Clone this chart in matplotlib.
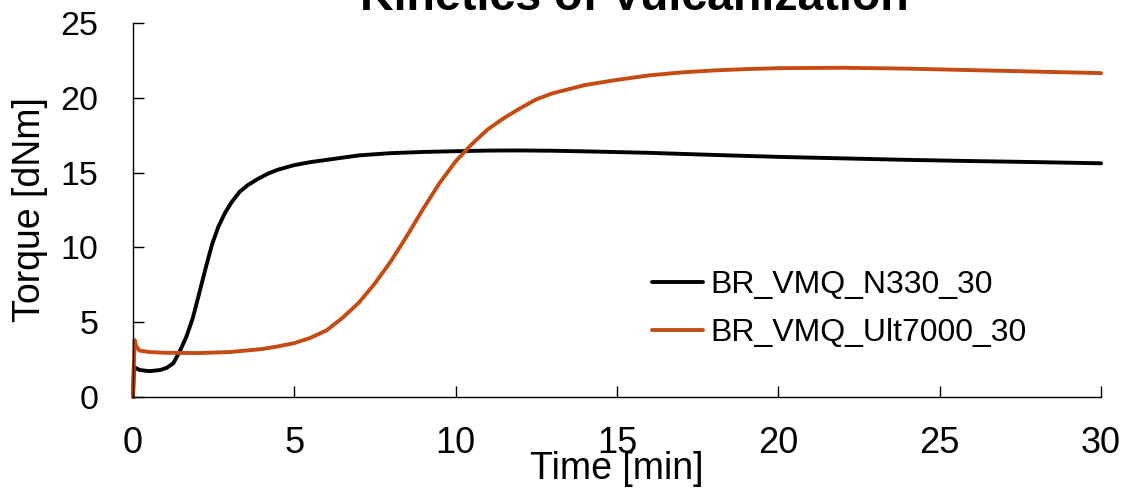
import matplotlib
matplotlib.use('Agg')
import matplotlib.pyplot as plt

plt.rcParams['font.family'] = ['Liberation Sans', 'DejaVu Sans']

# time [min] / torque [dNm]
t_n330 = [0, 0.03, 0.2, 0.5, 0.85, 1.05, 1.25, 1.45, 1.65, 1.85, 2.05, 2.25, 2.45,
          2.65, 2.85, 3.05, 3.3, 3.55, 3.85, 4.2, 4.5, 5.0, 5.5, 6.0, 7.0, 8.0, 9.0,
          10, 11, 12, 13, 14, 16, 18, 20, 22, 24, 26, 28, 30]
torque_n330 = [0, 2.0, 1.8, 1.72, 1.8, 1.95, 2.25, 3.05, 4.0, 5.25, 6.9, 8.6, 10.2,
               11.4, 12.3, 13.0, 13.7, 14.15, 14.55, 14.95, 15.2, 15.5, 15.7, 15.85,
               16.15, 16.3, 16.38, 16.43, 16.47, 16.48, 16.46, 16.42, 16.32, 16.18,
               16.05, 15.95, 15.85, 15.77, 15.7, 15.62]

t_ult = [0, 0.05, 0.1, 0.2, 0.5, 1.0, 2.0, 3.0, 4.0, 4.5, 5.0, 5.5, 6.0, 6.5, 7.0,
         7.5, 8.0, 8.5, 9.0, 9.5, 10.0, 10.5, 11.0, 11.5, 12.0, 12.5, 13.0, 14.0,
         15.0, 16.0, 17.0, 18.0, 19.0, 20.0, 22.0, 24.0, 26.0, 28.0, 30.0]
torque_ult = [0, 3.8, 3.4, 3.1, 3.0, 2.95, 2.93, 3.0, 3.2, 3.38, 3.6, 3.95, 4.45,
              5.3, 6.3, 7.6, 9.1, 10.8, 12.6, 14.3, 15.75, 16.9, 17.9, 18.65, 19.3,
              19.9, 20.3, 20.85, 21.2, 21.5, 21.7, 21.83, 21.92, 21.98, 22.01, 21.95,
              21.85, 21.75, 21.65]

fig = plt.figure(figsize=(11.27, 4.9), dpi=100)
ax = fig.add_axes([0.118, 0.19, 0.859, 0.763])

ax.plot(t_n330, torque_n330, color='black', lw=2.8, label='BR_VMQ_N330_30',
        clip_on=False, solid_joinstyle='round', solid_capstyle='round')
ax.plot(t_ult, torque_ult, color='#C54B14', lw=2.8, label='BR_VMQ_Ult7000_30',
        clip_on=False, solid_joinstyle='round', solid_capstyle='round')

ax.set_xlim(0, 30)
ax.set_ylim(0, 25)
ax.set_xticks([0, 5, 10, 15, 20, 25, 30])
ax.set_yticks([0, 5, 10, 15, 20, 25])
for s in ['top', 'right']:
    ax.spines[s].set_visible(False)
for s in ['left', 'bottom']:
    ax.spines[s].set_linewidth(1.0)
ax.tick_params(axis='both', direction='in', length=8, width=1.0)
ax.tick_params(axis='y', pad=25, labelsize=24.5)
ax.tick_params(axis='x', pad=21, labelsize=26)

ax.set_xlabel('Time [min]', fontsize=27)
ax.xaxis.set_label_coords(0.5, -0.193)
ax.xaxis.label.set_va('center')
ax.set_ylabel('Torque [dNm]', fontsize=27)
ax.yaxis.set_label_coords(-0.106, 0.5)
ax.yaxis.label.set_va('center')

fig.text(0.563, 0.98, 'Kinetics of Vulcanization', fontsize=33.5, fontweight='bold',
         ha='center', va='baseline')

ax.legend(loc='center left', bbox_to_anchor=(0.536, 0.235), frameon=False, fontsize=23,
          handlelength=1.6, handletextpad=0.22, labelspacing=0.58,
          borderpad=0, borderaxespad=0)

fig.savefig('out.png', dpi=100)
